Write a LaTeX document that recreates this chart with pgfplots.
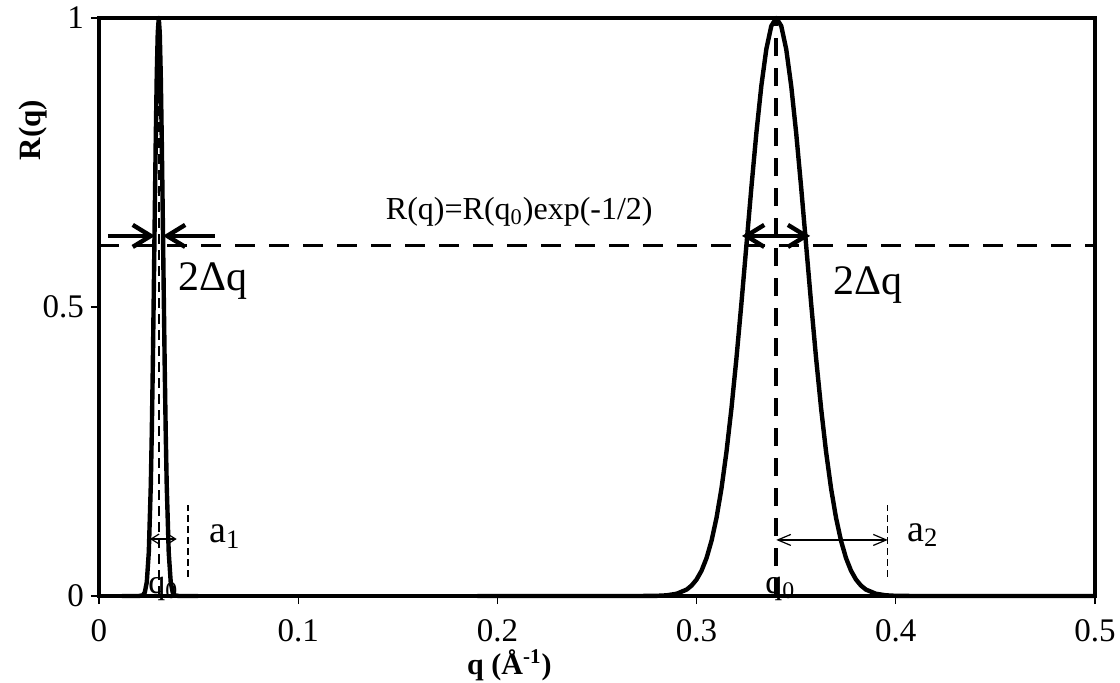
\documentclass[border=0pt]{standalone}
\usepackage{fontspec}
\setmainfont{Liberation Serif}
\usepackage{pgfplots}
\pgfplotsset{compat=1.18}
\usetikzlibrary{arrows.meta}

\begin{document}
\begin{tikzpicture}
\useasboundingbox (0,0) rectangle (560pt,341pt);
\begin{axis}[
    at={(49.5pt,43pt)}, anchor=south west,
    scale only axis,
    width=498pt, height=289pt,
    xmin=0, xmax=0.5, ymin=0, ymax=1,
    xtick={0,0.1,0.2,0.3,0.4,0.5},
    ytick={0,0.5,1},
    xtick pos=bottom, ytick pos=left,
    tick align=outside,
    major tick length=4pt,
    tick style={black, line width=0.6pt},
    axis line style={line width=1.7pt},
    ticklabel style={font=\fontsize{16.5}{19}\selectfont},
    /pgf/number format/assume math mode=true,
    xticklabel style={yshift=-4pt},
    xlabel={\textbf{q (Å\textsuperscript{-1})}},
    ylabel={\textbf{R(q)}},
    xlabel style={font=\fontsize{15}{18}\selectfont, at={(axis description cs:0.412,0)}, anchor=center, yshift=-34.5pt},
    ylabel style={font=\fontsize{15.5}{18}\selectfont, at={(axis description cs:0,0.806)}, anchor=center, yshift=33pt},
    clip=false
]

% narrow peak near q0 = 0.03
\addplot[black, line width=2.2pt, line join=round] coordinates {
    (0.0115,0) (0.020,0) (0.022,0.0013) (0.023,0.0063) (0.024,0.0243)
    (0.025,0.0756) (0.026,0.1915) (0.0265,0.2821) (0.027,0.3946)
    (0.0275,0.5243) (0.028,0.6615) (0.0285,0.7926) (0.029,0.902)
    (0.0295,0.9745) (0.030,1) (0.0305,0.9745) (0.031,0.902)
    (0.0315,0.7926) (0.032,0.6615) (0.0325,0.5243) (0.033,0.3946)
    (0.0335,0.2821) (0.034,0.1915) (0.035,0.0756) (0.036,0.0243)
    (0.037,0.0063) (0.038,0.0013) (0.040,0) (0.0497,0)
};

% wide peak near q0 = 0.34
\addplot[black, line width=2.2pt, line join=round] coordinates {
    (0.19,0) (0.27,0) (0.28,0.0003) (0.285,0.0012) (0.29,0.0039)
    (0.295,0.0111) (0.2975,0.0181) (0.30,0.0286) (0.3025,0.0439)
    (0.305,0.0657) (0.3075,0.0956) (0.31,0.1353) (0.3125,0.1863)
    (0.315,0.2494) (0.3175,0.3247) (0.32,0.4111) (0.3225,0.5063)
    (0.325,0.6065) (0.3275,0.7066) (0.33,0.8007) (0.3325,0.8825)
    (0.335,0.9460) (0.3375,0.9862) (0.34,1) (0.3425,0.9862)
    (0.345,0.9460) (0.3475,0.8825) (0.35,0.8007) (0.3525,0.7066)
    (0.355,0.6065) (0.3575,0.5063) (0.36,0.4111) (0.3625,0.3247)
    (0.365,0.2494) (0.3675,0.1863) (0.37,0.1353) (0.3725,0.0956)
    (0.375,0.0657) (0.3775,0.0439) (0.38,0.0286) (0.3825,0.0181)
    (0.385,0.0111) (0.39,0.0039) (0.395,0.0012) (0.40,0.0003)
    (0.41,0) (0.5,0)
};

% level R(q0)exp(-1/2)
\addplot[black, line width=1.6pt, dash pattern=on 10pt off 7pt] coordinates {(0,0.607) (0.5,0.607)};

% q0 markers
\addplot[black, line width=1.1pt, dash pattern=on 5pt off 3pt] coordinates {(0.03,0) (0.03,1)};
\addplot[black, line width=2.2pt, dash pattern=on 9pt off 6pt] coordinates {(0.34,0) (0.34,1)};

% a1, a2 limits
\draw[black, line width=0.6pt, dash pattern=on 3.5pt off 2pt] (axis cs:0.0447,0.033) -- (axis cs:0.0447,0.157);
\draw[black, line width=0.6pt, dash pattern=on 3.5pt off 2pt] (axis cs:0.396,0.033) -- (axis cs:0.396,0.157);
\draw[black, line width=0.6pt, {Straight Barb[length=4pt,width=5pt]}-{Straight Barb[length=4pt,width=5pt]}] (axis cs:0.0256,0.0986) -- (axis cs:0.039,0.0986);
\draw[black, line width=0.6pt, {Straight Barb[length=6.5pt,width=5.5pt]}-{Straight Barb[length=6.5pt,width=5.5pt]}] (axis cs:0.34,0.097) -- (axis cs:0.396,0.097);

% 2 delta q arrows
\draw[black, line width=2.2pt, -{Straight Barb[length=9pt,width=11pt]}] (axis cs:0.0045,0.623) -- (axis cs:0.0281,0.623);
\draw[black, line width=2.2pt, -{Straight Barb[length=9pt,width=11pt]}] (axis cs:0.0582,0.623) -- (axis cs:0.0321,0.623);
\draw[black, line width=2.2pt, {Straight Barb[length=9pt,width=11pt]}-{Straight Barb[length=9pt,width=11pt]}] (axis cs:0.3228,0.623) -- (axis cs:0.357,0.623);

% texts
\node[anchor=base, font=\fontsize{16}{19}\selectfont, inner sep=0pt] at (axis cs:0.211,0.652) {R(q)=R(q\textsubscript{0})exp(-1/2)};
\node[anchor=base west, font=\fontsize{21}{25}\selectfont, inner sep=0pt] at (axis cs:0.0397,0.529) {2Δq};
\node[anchor=base west, font=\fontsize{21}{25}\selectfont, inner sep=0pt] at (axis cs:0.3685,0.521) {2Δq};
\node[anchor=base west, font=\fontsize{19}{22}\selectfont, inner sep=0pt] at (axis cs:0.0552,0.092) {a\textsubscript{1}};
\node[anchor=base west, font=\fontsize{19}{22}\selectfont, inner sep=0pt] at (axis cs:0.4056,0.095) {a\textsubscript{2}};
\node[anchor=base west, font=\fontsize{17}{20}\selectfont, inner sep=0pt] at (axis cs:0.0246,0.005) {q\textsubscript{0}};
\node[anchor=base west, font=\fontsize{17}{20}\selectfont, inner sep=0pt] at (axis cs:0.3343,0.005) {q\textsubscript{0}};

\end{axis}
\end{tikzpicture}
\end{document}
